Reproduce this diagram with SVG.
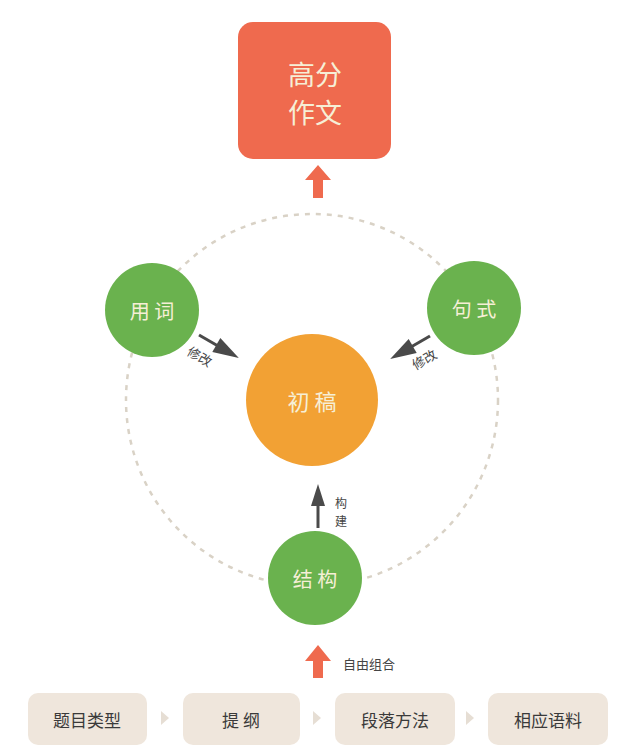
<svg xmlns="http://www.w3.org/2000/svg" width="640" height="754" viewBox="0 0 640 754">
<defs>
<style>
.cn{font-family:"Noto Sans CJK SC","Noto Sans",sans-serif;}
.nodet{fill:#f6efd6;font-size:22px;text-anchor:middle;dominant-baseline:central;}
.green{fill:#6ab24e;}
.lbl{fill:#444;font-size:12px;text-anchor:middle;dominant-baseline:central;}
.box{fill:#efe6dc;}
.boxt{fill:#3a3a3a;font-size:17px;text-anchor:middle;dominant-baseline:central;}
.tri{fill:#e6ded4;}
.dark{fill:#4a4a4a;}
.darkl{stroke:#4a4a4a;stroke-width:3;}
.up{fill:#ef6a4e;}
</style>
</defs>
<rect width="640" height="754" fill="#ffffff"/>
<g id="ring">
<circle cx="312" cy="400" r="186" fill="none" stroke="#d9d2c6" stroke-width="2.5" stroke-dasharray="5 6"/>
</g>
<g id="connectors">
<path class="up" d="M318 165 L331 180 L323 180 L323 198 L313 198 L313 180 L305 180 Z"/>
<path class="up" d="M318 645 L331 661 L323 661 L323 678 L313 678 L313 661 L305 661 Z"/>
<g transform="translate(199,335) rotate(30)">
<line class="darkl" x1="0" y1="0" x2="24" y2="0"/>
<path class="dark" d="M20 -8 L46 0 L20 8 Z"/>
</g>
<g transform="translate(430,336) rotate(150)">
<line class="darkl" x1="0" y1="0" x2="24" y2="0"/>
<path class="dark" d="M20 -8 L46 0 L20 8 Z"/>
</g>
<line class="darkl" x1="318" y1="528" x2="318" y2="500"/>
<path class="dark" d="M318 484 L325 506 L311 506 Z"/>
<text class="cn lbl" transform="translate(200,356) rotate(30)" style="font-size:13px">修改</text>
<text class="cn lbl" transform="translate(424,359) rotate(-30)" style="font-size:13px">修改</text>
<text class="cn lbl" x="341" y="502">构</text>
<text class="cn lbl" x="341" y="520">建</text>
<text class="cn lbl" x="369" y="663" style="font-size:13px">自由组合</text>
<path class="tri" d="M161 711 L169 718 L161 725 Z"/>
<path class="tri" d="M313 711 L321 718 L313 725 Z"/>
<path class="tri" d="M466 711 L474 718 L466 725 Z"/>
</g>
<g id="gaofen">
<rect x="238" y="22" width="153" height="137" rx="15" fill="#ef6a4e"/>
<text class="cn nodet" x="315" y="73" style="font-size:27px">高分</text>
<text class="cn nodet" x="315" y="111" style="font-size:27px">作文</text>
</g>
<g id="yongci">
<circle class="green" cx="152" cy="310" r="47"/>
<text class="cn nodet" x="152" y="310" style="font-size:20px">用 词</text>
</g>
<g id="jushi">
<circle class="green" cx="474" cy="308" r="47"/>
<text class="cn nodet" x="474" y="308" style="font-size:20px">句 式</text>
</g>
<g id="chugao">
<circle cx="312" cy="400" r="66" fill="#f2a134"/>
<text class="cn nodet" x="312" y="400" style="font-size:22px">初 稿</text>
</g>
<g id="jiegou">
<circle class="green" cx="315" cy="578" r="47"/>
<text class="cn nodet" x="315" y="578" style="font-size:20px">结 构</text>
</g>
<g id="b1">
<rect class="box" x="28" y="693" width="119" height="52" rx="10"/>
<text class="cn boxt" x="87" y="719">题目类型</text>
</g>
<g id="b2">
<rect class="box" x="183" y="693" width="117" height="52" rx="10"/>
<text class="cn boxt" x="241" y="719">提 纲</text>
</g>
<g id="b3">
<rect class="box" x="335" y="693" width="120" height="52" rx="10"/>
<text class="cn boxt" x="395" y="719">段落方法</text>
</g>
<g id="b4">
<rect class="box" x="488" y="693" width="120" height="52" rx="10"/>
<text class="cn boxt" x="548" y="719">相应语料</text>
</g>
</svg>
